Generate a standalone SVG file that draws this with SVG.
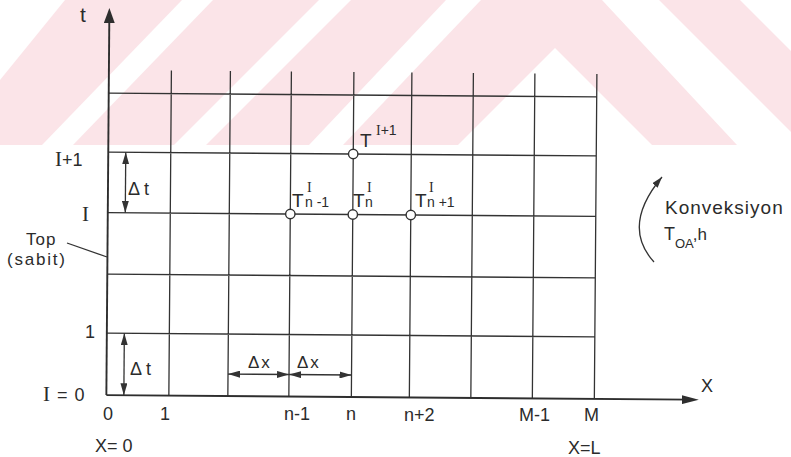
<svg xmlns="http://www.w3.org/2000/svg" width="791" height="457" viewBox="0 0 791 457">
<style>
.ln{stroke:#333;stroke-width:1.3;fill:none}
.ax{stroke:#2e2e2e;stroke-width:1.9;fill:none}
.ar{stroke:#333;stroke-width:1.3;fill:none;marker-start:url(#ah);marker-end:url(#ah)}
.t{font-family:"Liberation Sans",Arial,sans-serif;font-size:18px;fill:#2b2b2b}
.r{font-family:"Liberation Serif","Times New Roman",serif}
.nd{fill:#fff;stroke:#333;stroke-width:1.4}
.wm{fill:#fff}
</style>
<defs>
<marker id="ah" viewBox="0 0 12 7" refX="12" refY="3.5" markerWidth="12" markerHeight="7" markerUnits="userSpaceOnUse" orient="auto-start-reverse"><path d="M0,0 L12,3.5 L0,7 z" fill="#333"/></marker>
<marker id="ah2" viewBox="0 0 11 7" refX="11" refY="3.5" markerWidth="11" markerHeight="7" markerUnits="userSpaceOnUse" orient="auto"><path d="M0,0 L11,3.5 L0,7 z" fill="#333"/></marker>
<marker id="axv" viewBox="0 0 15 11" refX="7" refY="5.5" markerWidth="15" markerHeight="11" markerUnits="userSpaceOnUse" orient="auto"><path d="M0,0 L15,5.5 L0,11 z" fill="#2e2e2e"/></marker>
<marker id="axh" viewBox="0 0 17 9" refX="8" refY="4.5" markerWidth="17" markerHeight="9" markerUnits="userSpaceOnUse" orient="auto"><path d="M0,0 L17,4.5 L0,9 z" fill="#2e2e2e"/></marker>
</defs>
<rect x="0" y="0" width="791" height="457" fill="#fff"/>
<g id="watermark">
<rect x="0" y="0" width="791" height="145" fill="#fbe4e8"/>
<polygon class="wm" points="0,0 65,0 0,80"/>
<polygon class="wm" points="182,0 213,0 73,145 42,145"/>
<polygon class="wm" points="319,0 351,0 206,145 174,145"/>
<polygon class="wm" points="446,0 481,0 343,145 309,145"/>
<polygon class="wm" points="555,48 458,145 652,145"/>
<polygon class="wm" points="602,0 659,0 791,132 791,145 737,145"/>
<polygon class="wm" points="740,0 791,0 791,51"/>
</g>
<g id="grid" class="ln" transform="rotate(0.45 350 250)">
<path d="M170,72V397 M229,72V397 M290,72V397 M352.5,72V397 M410.5,72V397 M472,72V397 M533.5,72V397 M595.5,72V397 M107.5,95H595.5 M107.5,154H595.5 M107.5,214.5H595.5 M107.5,276H595.5 M107.5,335H595.5"/>
</g>
<g id="axes" transform="rotate(0.45 350 250)">
<line class="ax" x1="107.5" y1="397" x2="107.5" y2="18" marker-end="url(#axv)"/>
<line class="ax" x1="107.5" y1="397" x2="691" y2="397" marker-end="url(#axh)"/>
</g>
<g id="connectors">
<g transform="rotate(0.45 350 250)">
<line class="ar" x1="125" y1="154" x2="125" y2="214.5"/>
<line class="ar" x1="125" y1="335" x2="125" y2="397"/>
<line class="ar" x1="229" y1="375" x2="290" y2="375"/>
<line class="ar" x1="290" y1="375" x2="352.5" y2="375"/>
</g>
<line class="ln" x1="67" y1="243" x2="107" y2="257" stroke-width="1.1"/>
<path class="ln" d="M654,262 Q621,226 662,177" marker-end="url(#ah2)"/>
</g>
<g id="labels" class="t">
<text x="80" y="22" font-size="21">t</text>
<text x="55" y="166"><tspan class="r" font-size="21">I</tspan>+1</text>
<text x="82" y="221" class="r" font-size="21">I</text>
<text x="128" y="195" letter-spacing="4">Δt</text>
<text x="26" y="245" font-size="17" letter-spacing="1">Top</text>
<text x="7" y="265" font-size="17" letter-spacing="1.8">(sabit)</text>
<text x="85" y="338">1</text>
<text x="130" y="375" letter-spacing="4">Δt</text>
<text x="43" y="401" letter-spacing="1"><tspan class="r" font-size="21">I</tspan> = 0</text>
<text x="248" y="368" font-size="17" letter-spacing="2">Δx</text>
<text x="297" y="368" font-size="17" letter-spacing="2">Δx</text>
<text x="103" y="420">0</text>
<text x="160" y="420">1</text>
<text x="284" y="420">n-1</text>
<text x="346" y="420">n</text>
<text x="404" y="421">n+2</text>
<text x="519" y="421">M-1</text>
<text x="584" y="421">M</text>
<text x="95" y="452">X= 0</text>
<text x="568" y="454">X=L</text>
<text x="701" y="392">X</text>
</g>
<g id="node-n-1" class="t">
<circle class="nd" cx="290.3" cy="214" r="4.7"/>
<text x="292" y="207" font-size="19">T</text>
<text x="307" y="192" class="r" font-size="14">I</text>
<text x="305" y="207" font-size="14">n -1</text>
</g>
<g id="node-n" class="t">
<circle class="nd" cx="352.8" cy="214.5" r="4.7"/>
<text x="353" y="207" font-size="19">T</text>
<text x="367" y="192" class="r" font-size="14">I</text>
<text x="365" y="207" font-size="14">n</text>
</g>
<g id="node-n+1" class="t">
<circle class="nd" cx="410.8" cy="215" r="4.7"/>
<text x="415" y="207" font-size="19">T</text>
<text x="429" y="192" class="r" font-size="14">I</text>
<text x="427" y="207" font-size="14">n +1</text>
</g>
<g id="node-next" class="t">
<circle class="nd" cx="353.2" cy="154" r="4.7"/>
<text x="360" y="147" font-size="19">T</text>
<text x="376" y="135" font-size="14"><tspan class="r">I</tspan>+1</text>
</g>
<g id="convection" class="t">
<text x="665" y="214" font-size="19" letter-spacing="1">Konveksiyon</text>
<text x="664" y="240" font-size="18">T<tspan font-size="13" dy="8">OA</tspan><tspan font-size="17" dx="-1" dy="-8">,h</tspan></text>
</g>
</svg>
